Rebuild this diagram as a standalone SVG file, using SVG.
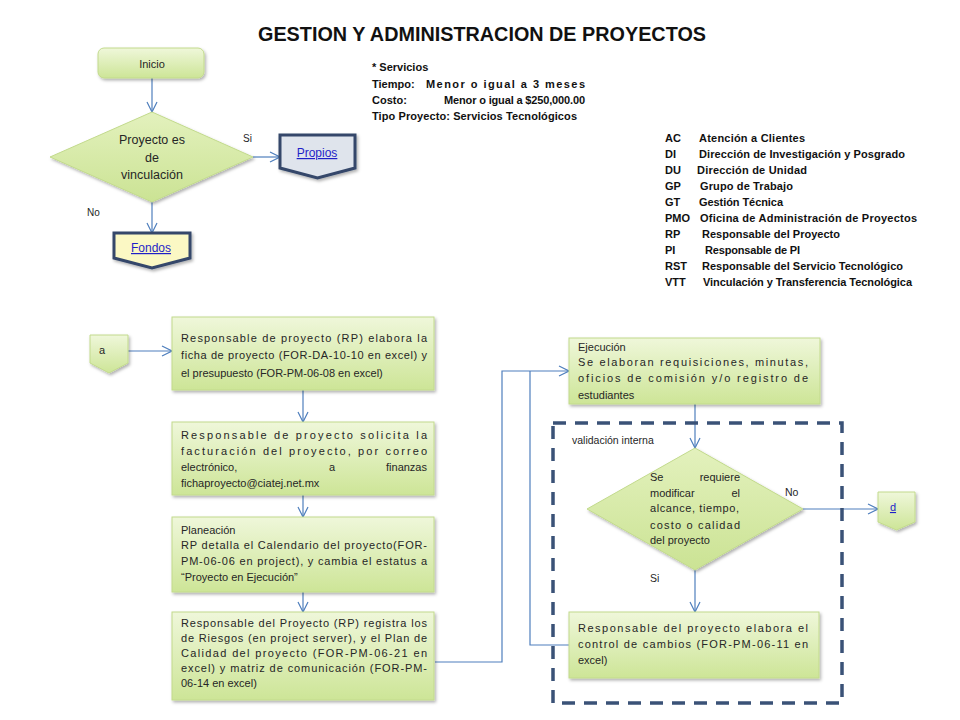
<svg xmlns="http://www.w3.org/2000/svg" width="960" height="720" viewBox="0 0 960 720">
<style>
.t{font-family:"Liberation Sans",Arial,sans-serif;font-size:11px;fill:#262626}
.b{font-family:"Liberation Sans",Arial,sans-serif;font-size:11px;font-weight:bold;fill:#111}
.title{font-family:"Liberation Sans",Arial,sans-serif;font-size:20px;font-weight:bold;fill:#111}
.lnk{font-family:"Liberation Sans",Arial,sans-serif;font-size:12px;fill:#1f1fc8;text-decoration:underline}
.box{fill:url(#gg);stroke:#c2da8c;stroke-width:1;filter:url(#sh)}
.dia{fill:url(#gd);stroke:#c2da8c;stroke-width:1;filter:url(#sh)}
.off{stroke:#34476a;stroke-width:3;filter:url(#sh)}
.c{fill:none;stroke:#4f7fbd;stroke-width:1.2}
.ca{fill:none;stroke:#4f7fbd;stroke-width:1.2;marker-end:url(#ar)}
.dash{fill:none;stroke:#3a5277;stroke-width:3.5;stroke-dasharray:13 9}
</style>
<defs>
<linearGradient id="gg" x1="0" y1="0" x2="0" y2="1">
<stop offset="0" stop-color="#eff7da"/><stop offset="1" stop-color="#cde597"/>
</linearGradient>
<linearGradient id="gd" x1="0" y1="0" x2="0" y2="1">
<stop offset="0" stop-color="#e3f1bd"/><stop offset="1" stop-color="#cbe394"/>
</linearGradient>
<filter id="sh" x="-10%" y="-10%" width="125%" height="130%">
<feDropShadow dx="1.5" dy="2" stdDeviation="1.5" flood-color="#000" flood-opacity="0.3"/>
</filter>
<marker id="ar" viewBox="0 0 12 12" refX="11" refY="6" markerWidth="12" markerHeight="12" markerUnits="userSpaceOnUse" orient="auto">
<path d="M1,1 L11,6 L1,11" fill="none" stroke="#4f7fbd" stroke-width="1.2"/>
</marker>
</defs>
<rect width="960" height="720" fill="#fff"/>

<text class="title" x="258" y="41" textLength="448" lengthAdjust="spacingAndGlyphs">GESTION Y ADMINISTRACION DE PROYECTOS</text>

<g id="servicios">
<text class="b" x="372" y="71">* Servicios</text>
<text class="b" x="372" y="88">Tiempo:</text><text class="b" x="426" y="88" textLength="159" lengthAdjust="spacing">Menor o igual  a 3 meses</text>
<text class="b" x="372" y="104">Costo:</text><text class="b" x="444" y="104" textLength="141" lengthAdjust="spacing">Menor o igual  a $250,000.00</text>
<text class="b" x="372" y="120" textLength="205" lengthAdjust="spacing">Tipo Proyecto: Servicios Tecnológicos</text>
</g>

<g id="legend">
<text class="b" x="665" y="142">AC</text><text class="b" x="699" y="142" textLength="106" lengthAdjust="spacing">Atención a Clientes</text>
<text class="b" x="665" y="158">DI</text><text class="b" x="699" y="158" textLength="206" lengthAdjust="spacing">Dirección de Investigación y Posgrado</text>
<text class="b" x="665" y="174">DU</text><text class="b" x="697" y="174" textLength="110" lengthAdjust="spacing">Dirección de Unidad</text>
<text class="b" x="665" y="190">GP</text><text class="b" x="700" y="190" textLength="93" lengthAdjust="spacing">Grupo de Trabajo</text>
<text class="b" x="665" y="206">GT</text><text class="b" x="699" y="206" textLength="84" lengthAdjust="spacing">Gestión Técnica</text>
<text class="b" x="665" y="222">PMO</text><text class="b" x="700" y="222" textLength="217" lengthAdjust="spacing">Oficina de Administración de Proyectos</text>
<text class="b" x="665" y="238">RP</text><text class="b" x="702" y="238" textLength="138" lengthAdjust="spacing">Responsable del Proyecto</text>
<text class="b" x="665" y="254">PI</text><text class="b" x="705" y="254" textLength="95" lengthAdjust="spacing">Responsable de PI</text>
<text class="b" x="665" y="270">RST</text><text class="b" x="702" y="270" textLength="201" lengthAdjust="spacing">Responsable del Servicio Tecnológico</text>
<text class="b" x="665" y="286">VTT</text><text class="b" x="703" y="286" textLength="209" lengthAdjust="spacing">Vinculación y Transferencia Tecnológica</text>
</g>

<g id="connectors">
<path class="ca" d="M152,78 V112"/>
<path class="ca" d="M253,157 H280"/>
<path class="ca" d="M152,202 V233"/>
<path class="ca" d="M128,351 H172"/>
<path class="ca" d="M303,390 V422"/>
<path class="ca" d="M303,495 V517"/>
<path class="ca" d="M303,592 V612"/>
<path class="ca" d="M435,662 H502 V371 H569"/>
<path class="c" d="M569,645 H530 V371"/>
<path class="ca" d="M695,404 V448"/>
<path class="ca" d="M803,509 H878"/>
<path class="ca" d="M695,570 V612"/>
<text class="t" x="243" y="142" style="font-size:10px">Si</text>
<text class="t" x="87" y="216" style="font-size:10px">No</text>
<text class="t" x="785" y="496" style="font-size:10.5px">No</text>
<text class="t" x="650" y="582" style="font-size:10.5px">Si</text>
</g>

<g id="inicio">
<rect class="box" x="98" y="48" width="106" height="30" rx="6"/>
<text class="t" x="152" y="68" text-anchor="middle">Inicio</text>
</g>

<g id="decision1">
<polygon class="dia" points="152,112 253,157 152,202 50,157"/>
<text class="t" x="152" y="144" text-anchor="middle" style="font-size:12.5px">Proyecto es</text>
<text class="t" x="152" y="162" text-anchor="middle" style="font-size:12.5px">de</text>
<text class="t" x="152" y="179" text-anchor="middle" style="font-size:12.5px">vinculación</text>
</g>

<g id="propios">
<polygon class="off" fill="#dfe4ec" points="280,135 355,135 355,168 317.5,178 280,168"/>
<text class="lnk" x="317" y="157" text-anchor="middle">Propios</text>
</g>

<g id="fondos">
<polygon class="off" fill="#fbf8c4" points="114,233 190,233 190,258 152,268 114,258"/>
<text class="lnk" x="151" y="252" text-anchor="middle">Fondos</text>
</g>

<g id="a">
<polygon class="box" points="90,335 128,335 128,363 109,373 90,363"/>
<text class="t" x="99" y="354">a</text>
</g>

<g id="box1">
<rect class="box" x="172" y="317" width="262" height="73"/>
<text class="t" x="181" y="342" textLength="246" lengthAdjust="spacing">Responsable de proyecto (RP)  elabora la</text>
<text class="t" x="181" y="359" textLength="246" lengthAdjust="spacing">ficha de proyecto  (FOR-DA-10-10 en excel) y</text>
<text class="t" x="181" y="377">el presupuesto  (FOR-PM-06-08 en excel)</text>
</g>

<g id="box2">
<rect class="box" x="172" y="422" width="262" height="73"/>
<text class="t" x="181" y="439" textLength="246" lengthAdjust="spacing">Responsable de proyecto solicita la</text>
<text class="t" x="181" y="455" textLength="246" lengthAdjust="spacing">facturación del proyecto, por correo</text>
<text class="t" x="181" y="471">electrónico,</text><text class="t" x="332" y="471" text-anchor="middle">a</text><text class="t" x="427" y="471" text-anchor="end">finanzas</text>
<text class="t" x="181" y="487">fichaproyecto@ciatej.net.mx</text>
</g>

<g id="box3">
<rect class="box" x="172" y="517" width="262" height="75"/>
<text class="t" x="181" y="534">Planeación</text>
<text class="t" x="181" y="549" textLength="246" lengthAdjust="spacing">RP detalla el Calendario del proyecto(FOR-</text>
<text class="t" x="181" y="565" textLength="246" lengthAdjust="spacing">PM-06-06 en project),  y cambia el estatus a</text>
<text class="t" x="181" y="581">“Proyecto en Ejecución”</text>
</g>

<g id="box4">
<rect class="box" x="172" y="612" width="262" height="88"/>
<text class="t" x="181" y="627" textLength="246" lengthAdjust="spacing">Responsable del Proyecto (RP) registra los</text>
<text class="t" x="181" y="642" textLength="246" lengthAdjust="spacing">de Riesgos (en project server),  y el Plan de</text>
<text class="t" x="181" y="657" textLength="246" lengthAdjust="spacing">Calidad del proyecto (FOR-PM-06-21 en</text>
<text class="t" x="181" y="672" textLength="246" lengthAdjust="spacing">excel) y matriz de comunicación (FOR-PM-</text>
<text class="t" x="181" y="687">06-14 en excel)</text>
</g>

<g id="ejecucion">
<rect class="box" x="569" y="338" width="251" height="66"/>
<text class="t" x="578" y="351">Ejecución</text>
<text class="t" x="578" y="366" textLength="230" lengthAdjust="spacing">Se elaboran requisiciones, minutas,</text>
<text class="t" x="578" y="382" textLength="230" lengthAdjust="spacing">oficios de comisión y/o registro de</text>
<text class="t" x="578" y="399">estudiantes</text>
</g>

<g id="validacion">
<rect class="dash" x="553" y="423" width="289" height="280"/>
<text class="t" x="572" y="444" style="font-size:10.5px">validación interna</text>
</g>

<g id="decision2">
<polygon class="dia" points="695,448 803,509 695,570 587,509"/>
<text class="t" x="650" y="481">Se</text><text class="t" x="740" y="481" text-anchor="end">requiere</text>
<text class="t" x="650" y="497">modificar</text><text class="t" x="740" y="497" text-anchor="end">el</text>
<text class="t" x="650" y="512" textLength="89" lengthAdjust="spacing">alcance, tiempo,</text>
<text class="t" x="650" y="529" textLength="90" lengthAdjust="spacing">costo o calidad</text>
<text class="t" x="650" y="544">del proyecto</text>
</g>

<g id="d">
<polygon class="box" points="878,492 915,492 915,522 896.5,530 878,522"/>
<text class="lnk" x="893" y="511" text-anchor="middle" style="font-size:11px">d</text>
</g>

<g id="box5">
<rect class="box" x="569" y="612" width="250" height="66"/>
<text class="t" x="578" y="632" textLength="230" lengthAdjust="spacing">Responsable del proyecto elabora el</text>
<text class="t" x="578" y="648" textLength="230" lengthAdjust="spacing">control de cambios (FOR-PM-06-11 en</text>
<text class="t" x="578" y="664">excel)</text>
</g>
</svg>
